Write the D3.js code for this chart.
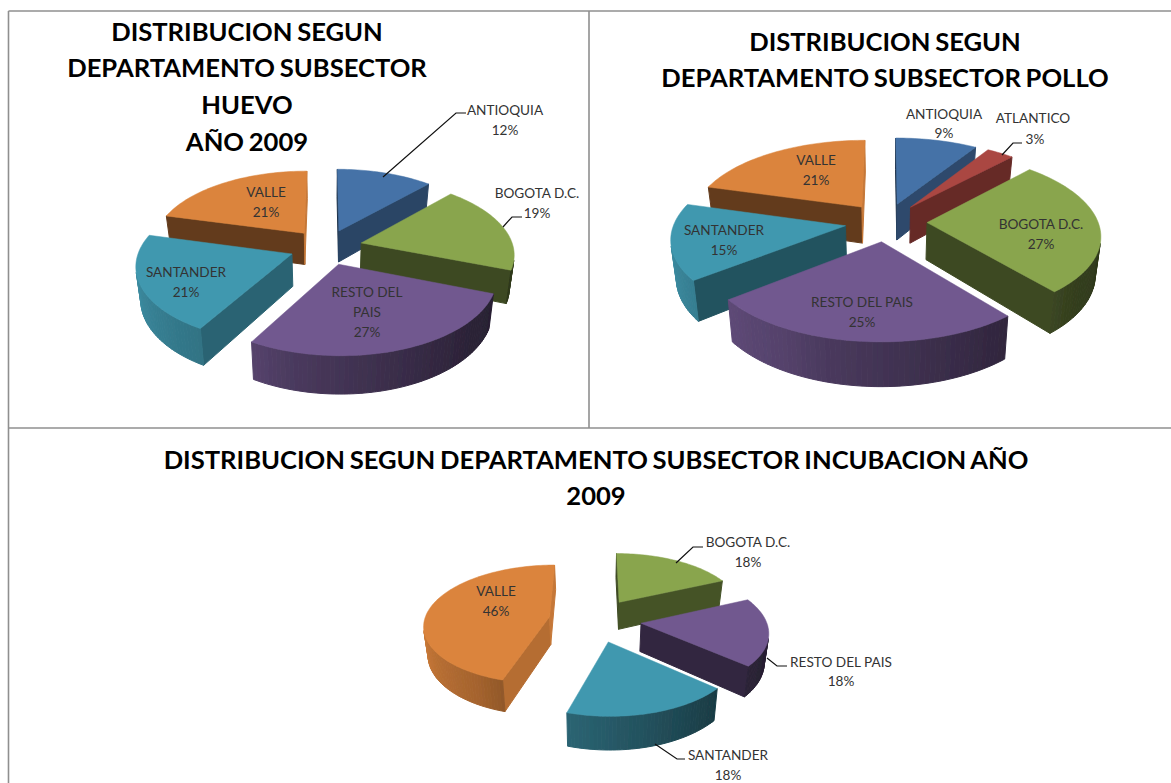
<!DOCTYPE html>
<html><head><meta charset="utf-8">
<script src="https://cdn.jsdelivr.net/npm/d3@7"></script>
<style>html,body{margin:0;padding:0;background:#fff;overflow:hidden}svg{display:block}</style>
</head><body><svg id="c" width="1171" height="783"></svg>
<script>
// ---- data -----
const huevoCategories = ["ANTIOQUIA","BOGOTA D.C.","RESTO DEL PAIS","SANTANDER","VALLE"];
const huevoValues = [11.8,19,27.5,20.8,20.9];
const polloCategories = ["ANTIOQUIA","ATLANTICO","BOGOTA D.C.","RESTO DEL PAIS","SANTANDER","VALLE"];
const polloValues = [9,3,27,25.4,15,20.6];
const incubacionCategories = ["BOGOTA D.C.","RESTO DEL PAIS","SANTANDER","VALLE"];
const incubacionValues = [18.3,18.3,18.3,45.5];
const huevoTitle = ["DISTRIBUCION SEGUN","DEPARTAMENTO SUBSECTOR","HUEVO","AÑO 2009"];
const polloTitle = ["DISTRIBUCION SEGUN","DEPARTAMENTO SUBSECTOR POLLO"];
const incubacionTitle = ["DISTRIBUCION SEGUN DEPARTAMENTO SUBSECTOR INCUBACION AÑO","2009"];

// ---- style & layout -----
const sliceColor = {"ANTIOQUIA":"#4572a7","ATLANTICO":"#aa4643","BOGOTA D.C.":"#89a54e","RESTO DEL PAIS":"#71588f","SANTANDER":"#4198af","VALLE":"#db843d"};
const wallShade = d3.scaleLinear().domain([95,105,119,133,140,155,194,260]).range([.9,.85,.66,.6,.55,.5,.45,.45]).clamp(true);
const outerShade = d3.scaleLinear().domain([80,111,130,195,209,284,300]).range([.33,.35,.38,.65,.75,1,1]).clamp(true);

const charts = [
 {cats:huevoCategories, vals:huevoValues, cx:326, cy:247, rx:152, ry:74, depth:32, explode:.24, k:.135,
  title:huevoTitle, titleX:247, titleY:[31,67,104,141],
  labels:[["ANTIOQUIA",505,110],["12%",505,130],["BOGOTA D.C.",537,193],["19%",537,213],["VALLE",266,192],["21%",266,212],["SANTANDER",186,272],["21%",186,292],["RESTO DEL",367,292],["PAIS",367,312],["27%",367,332]],
  leaders:[[[383,177],[456,113],[466,113]],[[503,227],[512,217],[522,217]]]},
 {cats:polloCategories, vals:polloValues, cx:886, cy:222, rx:171, ry:80, depth:37, explode:.24, k:.14,
  title:polloTitle, titleX:885, titleY:[41,77],
  labels:[["ANTIOQUIA",944,114],["9%",944,133],["ATLANTICO",1033,118],["3%",1035,139],["VALLE",816,160],["21%",816,180],["SANTANDER",724,230],["15%",724,250],["BOGOTA D.C.",1041,224],["27%",1041,244],["RESTO DEL PAIS",862,302],["25%",862,322]],
  leaders:[[[1002,155],[1013,143],[1022,143]]]},
 {cats:incubacionCategories, vals:incubacionValues, cx:595, cy:620, rx:125, ry:59, depth:28, explode:.37, k:.125,
  title:incubacionTitle, titleX:596, titleY:[459,495],
  labels:[["BOGOTA D.C.",748,542],["18%",748,562],["RESTO DEL PAIS",841,662],["18%",841,681],["VALLE",496,591],["46%",496,611],["SANTANDER",728,755],["18%",728,775]],
  leaders:[[[676,563],[693,547],[703,547]],[[767,658],[777,666],[787,666]],[[655,744],[677,759],[685,759]]]}
];

const svg = d3.select("#c");
svg.append("rect").attr("width",1171).attr("height",783).attr("fill","#fff");
const frame = svg.append("g").attr("stroke","#8f8f8f").attr("stroke-width",1.6).attr("fill","none");
[[8.5,11,1171,11],[8.5,11,8.5,783],[589,11,589,428],[8.5,428,1171,428]].forEach(l=>frame.append("line").attr("x1",l[0]).attr("y1",l[1]).attr("x2",l[2]).attr("y2",l[3]));

const defs = svg.append("defs");
defs.append("filter").attr("id","soft").append("feGaussianBlur").attr("stdDeviation",.45);

const STEP = Math.PI/120;
charts.forEach(ch=>{
  const g = svg.append("g").attr("filter","url(#soft)");
  const pie = d3.pie().sort(null).startAngle(0).endAngle(2*Math.PI).value((d,i)=>ch.vals[i]);
  const arcs = pie(ch.cats);
  const project = (u,v,h)=>{
    const s = 1/(1+ch.k*v), ds = 1-.026*(h?1:0);
    return [ch.cx + ch.rx*u*s*ds, ch.cy - ch.ry*v*s + (h?ch.depth*s:0)];
  };
  const path = d3.line();
  const area = p=>{let a=0;p.forEach((q,i)=>{const r=p[(i+1)%p.length];a+=q[0]*r[1]-r[0]*q[1];});return a/2;};
  const slices = arcs.map((a,i)=>{
    const mid=(a.startAngle+a.endAngle)/2;
    return {a,mid,name:ch.cats[i],ox:ch.explode*Math.sin(mid),oy:ch.explode*Math.cos(mid)};
  }).sort((p,q)=>q.oy-p.oy);
  slices.forEach(sl=>{
    const base = d3.color(sliceColor[sl.name]);
    const n = Math.max(2,Math.ceil((sl.a.endAngle-sl.a.startAngle)/STEP));
    const angs = d3.range(n+1).map(i=>sl.a.startAngle+(sl.a.endAngle-sl.a.startAngle)*i/n);
    const rim = angs.map(t=>[sl.ox+Math.sin(t),sl.oy+Math.cos(t)]);
    const apex = [sl.ox,sl.oy];
    const shade = f=>d3.rgb(base.r*f,base.g*f,base.b*f).formatHex();
    const deg = x=>((x*180/Math.PI)%360+360)%360;
    const face=(p,q,f)=>{
      const poly=[project(p[0],p[1],0),project(q[0],q[1],0),project(q[0],q[1],1),project(p[0],p[1],1)];
      return {poly,f};
    };
    const faces=[];
    faces.push(face(apex,rim[0],wallShade(deg(sl.a.startAngle-Math.PI/2))));
    faces.push(face(rim[n],apex,wallShade(deg(sl.a.endAngle+Math.PI/2))));
    for(let i=0;i<n;i++) faces.push(face(rim[i],rim[i+1],outerShade(deg((angs[i]+angs[i+1])/2))));
    faces.filter(f=>area(f.poly)<0).forEach(f=>{
      g.append("path").attr("d",path(f.poly)+"Z").attr("fill",shade(f.f)).attr("stroke",shade(f.f)).attr("stroke-width",1);
    });
    const top=[apex,...rim].map(p=>project(p[0],p[1],0));
    g.append("path").attr("d",path(top)+"Z").attr("fill",sliceColor[sl.name]).attr("stroke",sliceColor[sl.name]).attr("stroke-width",.5);
  });
  ch.leaders.forEach(l=>svg.append("path").attr("d",d3.line()(l)).attr("fill","none").attr("stroke","#111").attr("stroke-width",1.2));
  ch.labels.forEach(l=>svg.append("text").attr("x",l[1]).attr("y",l[2]).attr("text-anchor","middle").attr("dominant-baseline","central")
     .attr("font-family","Lato").attr("font-size",13.6).attr("fill","#333").text(l[0]));
  ch.title.forEach((t,i)=>svg.append("text").attr("x",ch.titleX).attr("y",ch.titleY[i]).attr("text-anchor","middle").attr("dominant-baseline","central")
     .attr("font-family","Lato").attr("font-weight",700).attr("font-size",25.6).attr("word-spacing",-1.5).attr("fill","#000").text(t));
});
</script></body></html>
